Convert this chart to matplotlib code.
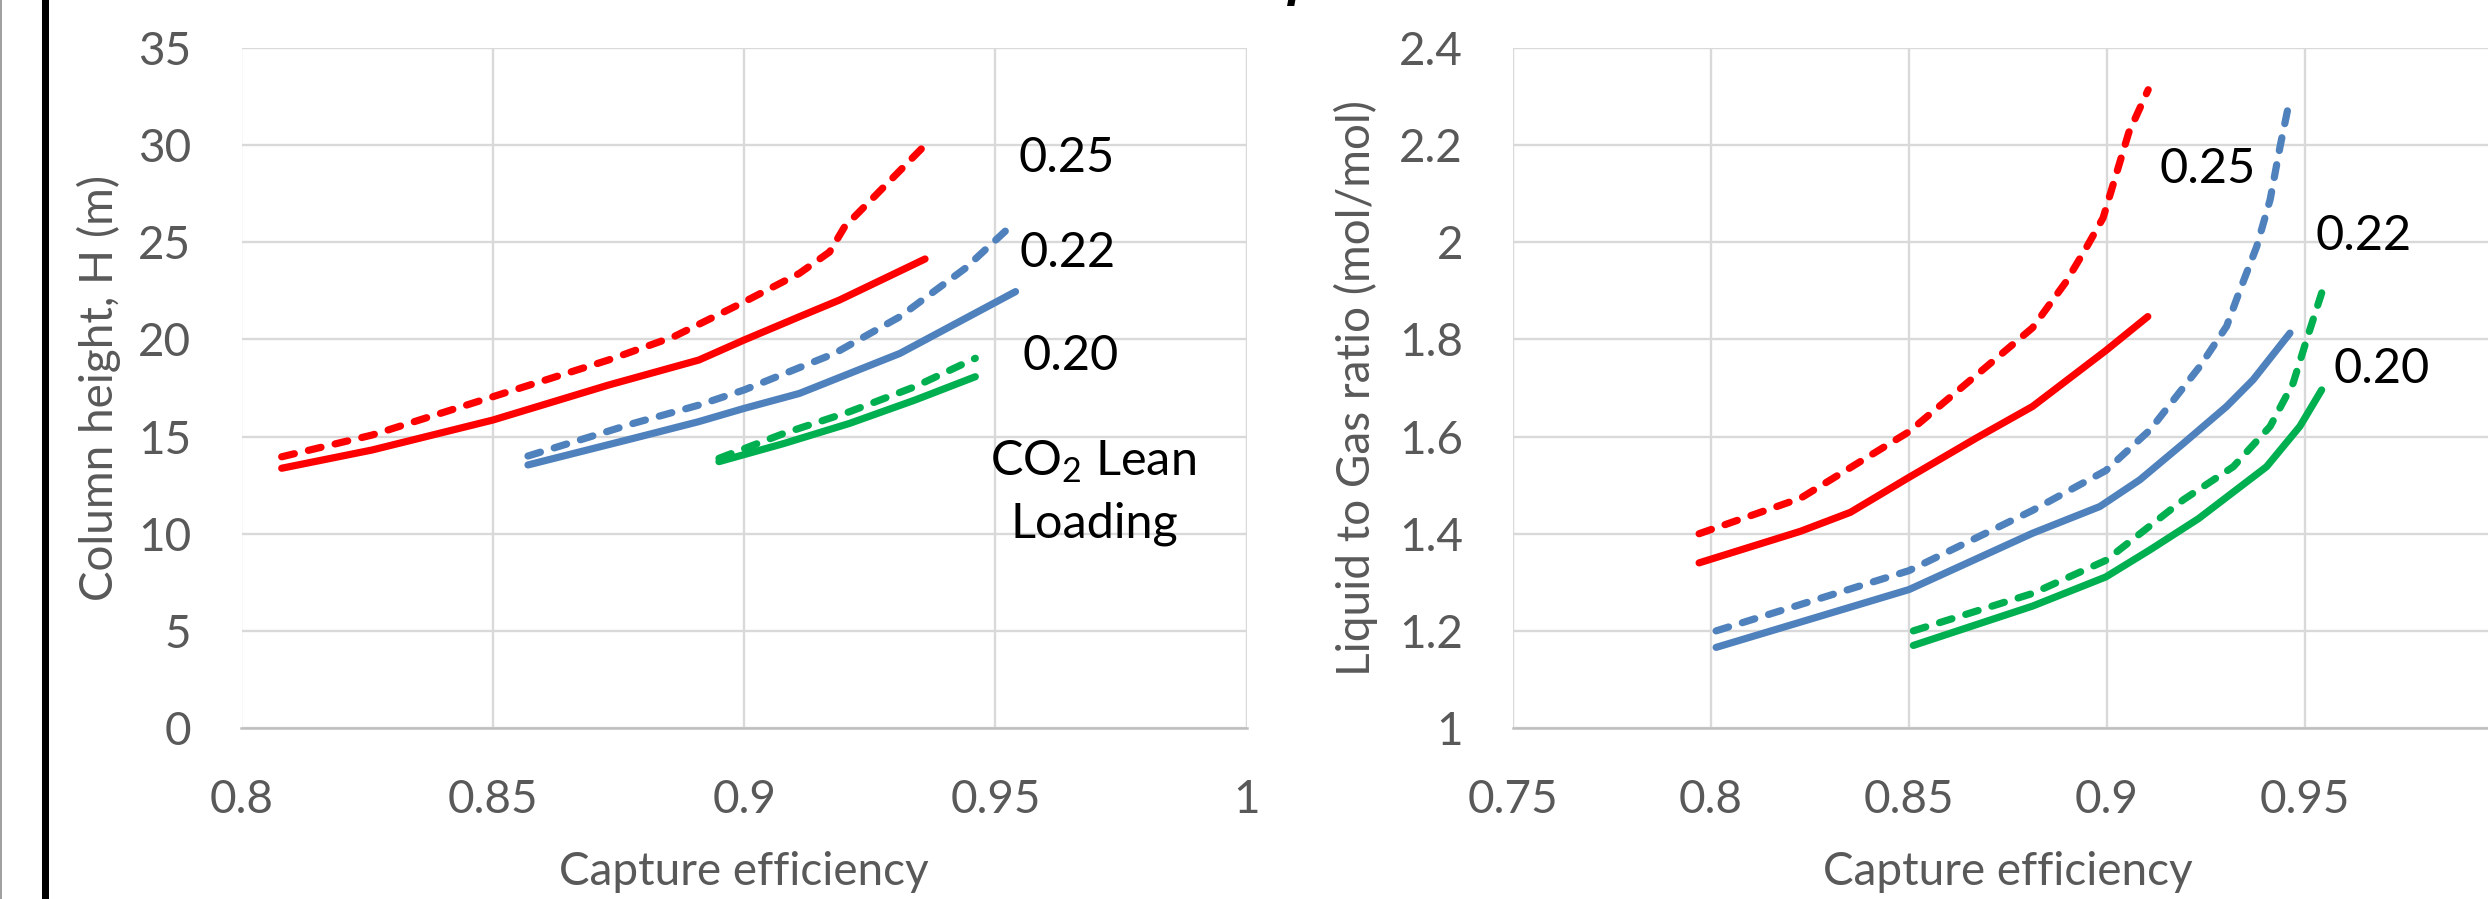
import numpy as np
import matplotlib
matplotlib.use('Agg')
import matplotlib.pyplot as plt
from matplotlib.patches import Rectangle

plt.rcParams['font.family'] = ['Lato', 'DejaVu Sans']
plt.rcParams['mathtext.fontset'] = 'custom'
plt.rcParams['mathtext.rm'] = 'Lato'
plt.rcParams['mathtext.it'] = 'Lato:italic'

# Column height vs capture efficiency (left panel)
h_red_dash_x = [0.808, 0.826, 0.85, 0.873, 0.886, 0.899, 0.911, 0.917, 0.92, 0.928, 0.936]
h_red_dash_y = [13.96, 15.08, 17.05, 18.94, 20.14, 21.8, 23.4, 24.5, 25.8, 27.9, 30.0]
h_red_x = [0.808, 0.826, 0.85, 0.873, 0.891, 0.9, 0.911, 0.919, 0.936]
h_red_y = [13.37, 14.31, 15.85, 17.65, 18.94, 19.97, 21.17, 22.03, 24.14]
h_blue_dash_x = [0.857, 0.878, 0.891, 0.9, 0.918, 0.931, 0.944, 0.954]
h_blue_dash_y = [14.0, 15.68, 16.62, 17.4, 19.28, 21.17, 23.66, 26.06]
h_blue_x = [0.857, 0.878, 0.891, 0.9, 0.911, 0.931, 0.954]
h_blue_y = [13.54, 14.91, 15.77, 16.45, 17.22, 19.28, 22.46]
h_green_dash_x = [0.895, 0.908, 0.921, 0.934, 0.946]
h_green_dash_y = [13.88, 15.17, 16.28, 17.57, 19.03]
h_green_x = [0.895, 0.908, 0.921, 0.934, 0.946]
h_green_y = [13.71, 14.65, 15.68, 16.88, 18.08]

# Liquid to gas ratio vs capture efficiency (right panel)
lg_red_dash_x = [0.797, 0.8226, 0.85, 0.8687, 0.8812, 0.8896, 0.8945, 0.899, 0.9055, 0.9104]
lg_red_dash_y = [1.40, 1.473, 1.610, 1.738, 1.824, 1.918, 1.985, 2.05, 2.226, 2.314]
lg_red_x = [0.797, 0.8226, 0.8352, 0.85, 0.867, 0.8812, 0.8997, 0.9103]
lg_red_y = [1.34, 1.405, 1.444, 1.516, 1.597, 1.662, 1.777, 1.847]
lg_blue_dash_x = [0.8013, 0.85, 0.8812, 0.8997, 0.9109, 0.9235, 0.9302, 0.9336, 0.9378, 0.9412, 0.9437, 0.9458]
lg_blue_dash_y = [1.2, 1.324, 1.448, 1.53, 1.614, 1.745, 1.827, 1.902, 1.991, 2.088, 2.197, 2.28]
lg_blue_x = [0.8013, 0.85, 0.8812, 0.8982, 0.9083, 0.9193, 0.9302, 0.9369, 0.9462]
lg_blue_y = [1.166, 1.285, 1.401, 1.456, 1.511, 1.586, 1.662, 1.717, 1.813]
lg_green_dash_x = [0.8511, 0.8812, 0.8997, 0.9193, 0.9319, 0.9412, 0.947, 0.9504, 0.9545]
lg_green_dash_y = [1.2, 1.277, 1.345, 1.47, 1.538, 1.621, 1.71, 1.799, 1.903]
lg_green_x = [0.8511, 0.8812, 0.8997, 0.9109, 0.9231, 0.9403, 0.9487, 0.9542]
lg_green_y = [1.170, 1.251, 1.311, 1.367, 1.431, 1.538, 1.621, 1.696]

h_xticks = [0.8, 0.85, 0.9, 0.95, 1.0]
h_xlabels = ['0.8', '0.85', '0.9', '0.95', '1']
h_yticks = [0, 5, 10, 15, 20, 25, 30, 35]
lg_xticks = [0.75, 0.8, 0.85, 0.9, 0.95]
lg_xlabels = ['0.75', '0.8', '0.85', '0.9', '0.95']
lg_yticks = [1, 1.2, 1.4, 1.6, 1.8, 2, 2.2, 2.4]
lg_ylabels = ['1', '1.2', '1.4', '1.6', '1.8', '2', '2.2', '2.4']

RED = '#FF0000'
BLUE = '#4F81BD'
GREEN = '#00B050'
GREY = '#595959'
LW = 5.2
DASH = (0, (1.8, 2.0))

W, H = 2488, 899
fig = plt.figure(figsize=(W / 100, H / 100), dpi=100)
ax1 = fig.add_axes([241.5 / W, (H - 728) / H, 1005.2 / W, 680 / H])
ax2 = fig.add_axes([1513 / W, (H - 728) / H, 990 / W, 680 / H])


def style(ax):
    ax.grid(True, color='#D9D9D9', lw=1.7)
    ax.set_axisbelow(True)
    for s in ['left', 'right', 'top']:
        ax.spines[s].set_visible(False)
    ax.spines['bottom'].set_color('#BFBFBF')
    ax.spines['bottom'].set_linewidth(1.8)
    ax.tick_params(length=0, labelsize=33, labelcolor=GREY)
    ax.tick_params(axis='x', pad=37)
    ax.tick_params(axis='y', pad=36)


def curve(ax, x, y, color, dashed):
    if dashed:
        ax.plot(x, y, color=color, lw=LW, ls=DASH, dash_capstyle='round')
    else:
        ax.plot(x, y, color=color, lw=LW, solid_capstyle='round')


# left panel
style(ax1)
curve(ax1, h_red_dash_x, h_red_dash_y, RED, True)
curve(ax1, h_red_x, h_red_y, RED, False)
curve(ax1, h_blue_dash_x, h_blue_dash_y, BLUE, True)
curve(ax1, h_blue_x, h_blue_y, BLUE, False)
curve(ax1, h_green_dash_x, h_green_dash_y, GREEN, True)
curve(ax1, h_green_x, h_green_y, GREEN, False)
ax1.set_xlim(0.8, 1.0)
ax1.set_ylim(0, 35)
ax1.set_xticks(h_xticks, h_xlabels)
ax1.set_yticks(h_yticks, [str(v) for v in h_yticks])
ax1.set_xlabel('Capture efficiency', fontsize=33, color=GREY)
ax1.xaxis.set_label_coords(0.5, -0.181)
ax1.set_ylabel('Column height, H (m)', fontsize=33, color=GREY, va='center')
ax1.yaxis.set_label_coords(-0.1418, 0.5)
ax1.text(0.9641, 28.62, '0.25', fontsize=35, ha='center', va='baseline')
ax1.text(0.9643, 23.73, '0.22', fontsize=35, ha='center', va='baseline')
ax1.text(0.965, 18.43, '0.20', fontsize=35, ha='center', va='baseline')
ax1.text(0.9694, 13.02, 'CO$_2$ Lean', fontsize=35, ha='center', va='baseline')
ax1.text(0.9697, 9.78, 'Loading', fontsize=35, ha='center', va='baseline')

# right panel (its right edge runs past the picture, as in the source crop)
style(ax2)
curve(ax2, lg_red_dash_x, lg_red_dash_y, RED, True)
curve(ax2, lg_red_x, lg_red_y, RED, False)
curve(ax2, lg_blue_dash_x, lg_blue_dash_y, BLUE, True)
curve(ax2, lg_blue_x, lg_blue_y, BLUE, False)
curve(ax2, lg_green_dash_x, lg_green_dash_y, GREEN, True)
curve(ax2, lg_green_x, lg_green_y, GREEN, False)
ax2.set_xlim(0.75, 1.0)
ax2.set_ylim(1, 2.4)
ax2.set_xticks(lg_xticks, lg_xlabels)
ax2.set_yticks(lg_yticks, lg_ylabels)
ax2.set_xlabel('Capture efficiency', fontsize=33, color=GREY)
ax2.xaxis.set_label_coords(0.5, -0.181)
ax2.set_ylabel('Liquid to Gas ratio (mol/mol)', fontsize=33, color=GREY, va='center')
ax2.yaxis.set_label_coords(-0.1586, 0.5)
ax2.text(0.9254, 2.122, '0.25', fontsize=35, ha='center', va='baseline')
ax2.text(0.9649, 1.9846, '0.22', fontsize=35, ha='center', va='baseline')
ax2.text(0.9694, 1.7106, '0.20', fontsize=35, ha='center', va='baseline')

# page edge and the cut-off title glyph
fig.add_artist(Rectangle((42 / W, 0), 7 / W, 1, transform=fig.transFigure,
                         color='black', lw=0))
fig.add_artist(Rectangle((0, 0), 2 / W, 1, transform=fig.transFigure,
                         color='#A0A0A0', lw=0))
fig.text(1286 / W, 1 + 3 / H, 'p', fontsize=30, fontweight='bold',
         fontstyle='italic', family='DejaVu Serif', va='baseline', ha='left')

fig.savefig('out.png', dpi=100)
